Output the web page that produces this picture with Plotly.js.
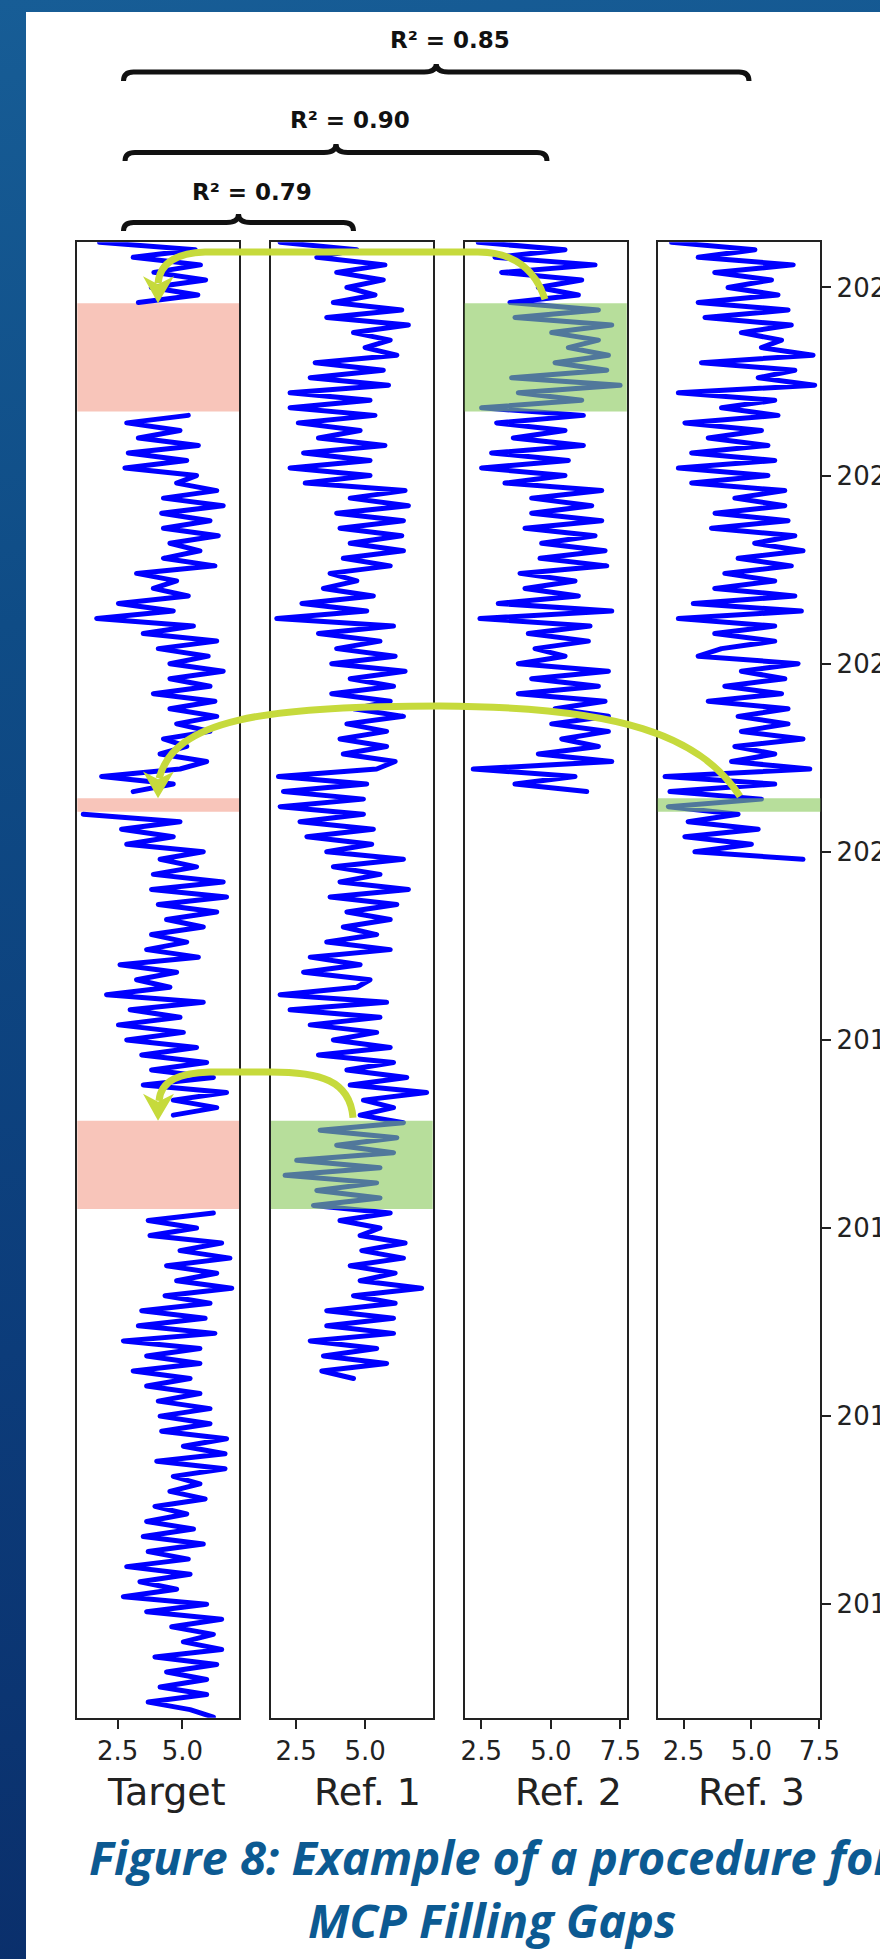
<!DOCTYPE html>
<html>
<head>
<meta charset="utf-8">
<script src="https://cdn.plot.ly/plotly-3.0.1.min.js"></script>
<style>
html,body{margin:0;padding:0;}
body{width:880px;height:1959px;overflow:hidden;background:linear-gradient(172deg,#175d96 0%,#0f4c86 30%,#0c3c7a 65%,#0a2d69 100%);}
#chart{width:880px;height:1959px;}
.js-line{stroke-linejoin:round;stroke-linecap:round;}
</style>
</head>
<body>
<div id="chart"></div>
<script>
// ---------------- data ----------------
const panelNames = ['Target', 'Ref. 1', 'Ref. 2', 'Ref. 3'];
const sampleStart = 2023.24;   // first (latest) sample, decimal year
const sampleStep = 0.04;       // sampling interval, years

const targetValues = [
  1.8, 5.5, 3.1, 5.7, 3.9, 5.9, 3.8, 5.6, 3.3, null,
  null, null, null, null, null, null, null, null, null, null,
  null, null, null, 5.23, 2.85, 4.91, 3.30, 5.62, 2.91, 5.17,
  2.78, 5.55, 4.78, 6.33, 4.27, 6.58, 4.20, 6.07, 4.27, 6.39,
  4.52, 5.68, 4.27, 6.26, 3.23, 4.78, 3.88, 5.23, 2.53, 4.65,
  1.69, 5.43, 3.49, 6.33, 4.07, 6.00, 4.52, 6.58, 4.52, 6.07,
  3.88, 6.26, 4.52, 6.33, 4.78, 6.07, 4.27, 5.17, 4.14, 5.94,
  4.91, 1.88, 4.65, 3.10, null, null, 1.17, 4.91, 2.65, 4.65,
  2.85, 5.81, 4.14, 5.55, 3.88, 6.58, 3.81, 6.71, 4.07, 6.33,
  4.39, 5.81, 3.81, 5.17, 3.62, 5.62, 2.59, 4.78, 3.23, 4.52,
  2.07, 5.81, 2.98, 4.91, 2.53, 5.04, 2.85, 5.55, 3.43, 5.94,
  3.81, 6.20, 3.49, 6.71, 4.65, 6.33, 4.65, null, null, null,
  null, null, null, null, null, null, null, null, null, 6.20,
  3.68, 5.55, 3.75, 6.52, 4.91, 6.84, 4.39, 6.33, 4.78, 6.91,
  4.33, 6.07, 3.43, 5.88, 3.30, 6.26, 2.72, 5.68, 3.62, 5.68,
  3.10, 5.30, 3.62, 5.68, 4.07, 6.07, 4.14, 6.07, 4.20, 6.71,
  5.04, 6.65, 4.01, 6.65, 4.65, 5.68, 4.52, 5.88, 3.94, 5.17,
  3.62, 5.43, 3.49, 5.81, 3.68, 5.23, 2.85, 5.30, 3.36, 4.78,
  2.72, 5.94, 3.62, 6.52, 4.59, 6.20, 5.04, 6.52, 3.94, 6.33,
  4.39, 5.94, 4.14, 5.94, 3.68, 5.30, 6.20
];

const ref1Values = [
  1.92, 4.70, 3.25, 5.72, 3.97, 5.66, 4.34, 5.36, 3.85, 6.33,
  3.61, 6.57, 4.58, 5.91, 5.00, 6.15, 3.19, 5.66, 3.01, 5.85,
  2.28, 5.18, 2.28, 5.36, 2.58, 4.82, 3.31, 5.72, 2.77, 5.18,
  2.28, 5.18, 2.83, 6.45, 4.46, 6.57, 3.97, 6.39, 4.09, 6.33,
  4.46, 6.39, 4.21, 5.91, 3.73, 4.70, 3.49, 5.30, 2.71, 5.06,
  1.80, 6.03, 3.31, 5.54, 3.97, 6.09, 3.79, 6.45, 4.46, 6.03,
  3.79, 5.91, 4.58, 6.39, 4.34, 5.78, 4.09, 5.78, 4.21, 6.09,
  5.42, 1.86, 5.06, 2.04, 4.94, 1.92, 4.94, 2.64, 5.30, 2.89,
  5.24, 3.61, 6.39, 3.85, 5.54, 4.09, 6.57, 3.73, 6.15, 4.34,
  5.91, 4.21, 5.42, 3.61, 5.91, 3.01, 4.82, 2.77, 5.18, 4.70,
  1.92, 5.78, 2.28, 5.54, 3.01, 5.42, 3.85, 5.91, 3.31, 6.03,
  4.34, 6.51, 4.46, 7.23, 4.94, 6.03, 4.82, 6.39, 3.37, 6.15,
  3.97, 6.03, 2.52, 5.54, 2.10, 5.42, 3.25, 5.54, 3.13, 5.91,
  4.09, 5.54, 4.82, 6.45, 4.88, 6.39, 4.46, 6.09, 4.82, 7.05,
  4.58, 6.09, 3.61, 6.03, 3.61, 6.03, 3.01, 5.42, 3.49, 5.78,
  3.43, 4.58
];

const ref2Values = [
  2.39, 5.51, 2.99, 6.59, 3.23, 6.11, 4.55, 5.99, 3.53, 6.71,
  3.71, 7.19, 5.03, 6.71, 5.63, 7.07, 5.15, 7.01, 3.59, 7.49,
  3.83, 6.11, 2.51, 6.17, 3.05, 5.51, 3.65, 6.17, 2.87, 5.63,
  2.51, 5.51, 3.35, 6.83, 4.31, 6.47, 4.31, 6.83, 4.07, 6.59,
  4.67, 6.95, 4.61, 7.01, 3.89, 5.87, 4.07, 5.99, 3.11, 7.19,
  2.45, 6.41, 4.19, 6.35, 4.43, 5.51, 3.83, 7.07, 4.31, 6.71,
  3.83, 6.95, 5.15, 7.07, 5.03, 7.07, 5.39, 6.71, 4.55, 7.19,
  2.21, 5.87, 3.71, 6.29
];

const ref3Values = [
  2.06, 5.13, 3.04, 6.54, 3.65, 5.74, 4.14, 5.98, 3.04, 6.35,
  3.29, 6.47, 4.63, 6.11, 5.37, 7.27, 3.16, 6.60, 5.25, 7.33,
  2.31, 5.86, 3.90, 5.98, 2.55, 5.37, 3.41, 5.61, 2.80, 5.86,
  2.31, 5.61, 2.80, 6.23, 4.39, 6.23, 3.66, 6.35, 3.53, 6.60,
  5.12, 6.90, 4.51, 6.47, 4.02, 5.86, 3.65, 6.60, 2.86, 6.84,
  2.31, 5.86, 3.65, 5.86, 3.90, 3.04, 6.72, 4.63, 6.23, 4.02,
  6.11, 3.41, 6.35, 4.51, 6.35, 4.63, 6.90, 4.39, 5.86, 4.27,
  7.15, 1.82, 5.86, 2.00, 5.37, 1.94, 4.51, 2.67, 5.25, 2.55,
  5.00, 2.92, 6.90
];

const yearTicks = [2016, 2017, 2018, 2019, 2020, 2021, 2022, 2023];
const valueTicks = [2.5, 5.0, 7.5];

// gaps in the target series (decimal years) and the reference used to fill each
const gapTop = [2022.916, 2020.284, 2018.570];
const gapBottom = [2022.340, 2020.213, 2018.101];
const gapSource = [3, 4, 2];           // subplot number of the reference panel

const r2Labels = ['R² = 0.85', 'R² = 0.90', 'R² = 0.79'];

// ---------------- layout geometry (pixels) ----------------
const W = 880, H = 1959;
const px = x => x / W;
const py = y => 1 - y / H;
const panelLeft = [77.3, 271, 464.6, 657.7];
const panelRight = [239, 432.7, 626.8, 820.4];
const plotTop = 242.3, plotBottom = 1717.7;
const xRanges = [[0.94, 7.19], [1.59, 7.45], [1.90, 7.73], [1.55, 7.54]];
const yRange = [2015.397, 2023.24];
const yearToPx = yr => plotTop + (yRange[1] - yr) / (yRange[1] - yRange[0]) * (plotBottom - plotTop);

function toPaper(d) {
  let n = 0;
  return d.trim().split(/\s+/).map(tok => {
    if (/^[A-Za-z]$/.test(tok)) return tok;
    const v = parseFloat(tok);
    const out = (n % 2 === 0) ? px(v) : py(v);
    n++;
    return out.toFixed(5);
  }).join(' ');
}

const series = [targetValues, ref1Values, ref2Values, ref3Values];
const traces = series.map((vals, k) => ({
  type: 'scatter', mode: 'lines',
  x: vals,
  y: vals.map((_, i) => +(sampleStart - i * sampleStep).toFixed(3)),
  xaxis: k === 0 ? 'x' : 'x' + (k + 1),
  yaxis: k === 0 ? 'y' : 'y' + (k + 1),
  line: {color: '#0000ff', width: 5},
  connectgaps: false,
  hoverinfo: 'skip',
  name: panelNames[k]
}));

const tickFont = {family: 'DejaVu Sans', size: 26, color: '#222'};
const layout = {
  width: W, height: H,
  margin: {l: 0, r: 0, t: 0, b: 0, pad: 0},
  paper_bgcolor: 'rgba(0,0,0,0)',
  plot_bgcolor: '#ffffff',
  showlegend: false,
  shapes: [],
  annotations: []
};

for (let k = 0; k < 4; k++) {
  const sx = k === 0 ? '' : String(k + 1);
  layout['xaxis' + sx] = {
    domain: [px(panelLeft[k]), px(panelRight[k])],
    range: xRanges[k],
    anchor: 'y' + sx,
    showline: true, mirror: true, linecolor: '#222', linewidth: 2,
    ticks: 'outside', ticklen: 9, tickwidth: 2, tickcolor: '#222',
    tickmode: 'array', tickvals: valueTicks, ticktext: valueTicks.map(v => v.toFixed(1)),
    tickfont: tickFont,
    showgrid: false, zeroline: false, fixedrange: true
  };
  const ya = {
    domain: [py(plotBottom), py(plotTop)],
    range: yRange,
    anchor: 'x' + sx,
    showline: true, mirror: true, linecolor: '#222', linewidth: 2,
    showgrid: false, zeroline: false, fixedrange: true
  };
  if (k === 3) {
    Object.assign(ya, {
      side: 'right', ticks: 'outside', ticklen: 9, tickwidth: 2, tickcolor: '#222',
      tickmode: 'array', tickvals: yearTicks, ticktext: yearTicks.map(String),
      tickfont: tickFont, showticklabels: true
    });
  } else {
    Object.assign(ya, {ticks: '', showticklabels: false});
  }
  layout['yaxis' + sx] = ya;
}

// white slide panel
layout.shapes.push({type: 'rect', xref: 'paper', yref: 'paper', x0: px(26), x1: 1, y0: 0, y1: py(12),
  fillcolor: '#ffffff', line: {width: 0}, layer: 'below'});

// gaps (target) and the reference intervals used to fill them
gapTop.forEach((top, g) => {
  layout.shapes.push({type: 'rect', xref: 'x domain', yref: 'y', x0: 0, x1: 1, y0: gapBottom[g], y1: top,
    fillcolor: '#F8C5BA', line: {width: 0}, layer: 'below'});
  const s = gapSource[g];
  layout.shapes.push({type: 'rect', xref: 'x' + s + ' domain', yref: 'y' + s, x0: 0, x1: 1, y0: gapBottom[g], y1: top,
    fillcolor: 'rgb(135,200,88)', opacity: 0.6, line: {width: 0}, layer: 'above'});
});

// curved arrows (reference -> target gap)
const gy = gapTop.map(yearToPx);
const arrowColor = '#C6DA3C';
const arrowPaths = [
  `M 545 ${gy[0] - 4} C 536 ${gy[0] - 32} 515 252 478 252 L 205 252 C 178 253 160 262 158 ${gy[0] - 20}`,
  `M 740 ${gy[1] - 2} C 700 735 620 707 440 706 C 260 706 175 720 159 ${gy[1] - 20}`,
  `M 353 ${gy[2] - 3} C 350 1080 320 1072 270 1072 L 210 1072 C 180 1073 161 1080 159 ${gy[2] - 20}`
];
arrowPaths.forEach((p, g) => {
  layout.shapes.push({type: 'path', xref: 'paper', yref: 'paper', path: toPaper(p),
    line: {color: arrowColor, width: 7}, fillcolor: 'rgba(0,0,0,0)', layer: 'above'});
  const tx = 158, ty = gy[g];
  const head = `M ${tx} ${ty} L ${tx - 15} ${ty - 27} L ${tx} ${ty - 19} L ${tx + 16} ${ty - 27} Z`;
  layout.shapes.push({type: 'path', xref: 'paper', yref: 'paper', path: toPaper(head),
    line: {width: 0}, fillcolor: arrowColor, layer: 'above'});
});

// braces with R² labels
function bracePath(x0, x1, xc, yBar, yEnd, yTop) {
  return `M ${x0} ${yEnd} Q ${x0} ${yBar} ${x0 + 10} ${yBar} L ${xc - 12} ${yBar} Q ${xc} ${yBar} ${xc} ${yTop} ` +
         `Q ${xc} ${yBar} ${xc + 12} ${yBar} L ${x1 - 10} ${yBar} Q ${x1} ${yBar} ${x1} ${yEnd}`;
}
const braces = [
  {x0: 123.5, x1: 749, yBar: 72, yEnd: 81, yTop: 64, lx: 450, ly: 40},
  {x0: 125, x1: 547, yBar: 152.5, yEnd: 161, yTop: 144, lx: 349.5, ly: 120},
  {x0: 123.5, x1: 353.5, yBar: 222.5, yEnd: 231, yTop: 214, lx: 252, ly: 192}
];
braces.forEach((b, i) => {
  const xc = (b.x0 + b.x1) / 2;
  layout.shapes.push({type: 'path', xref: 'paper', yref: 'paper',
    path: toPaper(bracePath(b.x0, b.x1, xc, b.yBar, b.yEnd, b.yTop)),
    line: {color: '#111', width: 5}, fillcolor: 'rgba(0,0,0,0)', layer: 'above'});
  layout.annotations.push({xref: 'paper', yref: 'paper', x: px(b.lx), y: py(b.ly),
    xanchor: 'center', yanchor: 'middle', showarrow: false, text: r2Labels[i],
    font: {family: 'DejaVu Sans', size: 23, color: '#111', weight: 'bold'}});
});

// panel names under the axes
const nameX = [166, 367.6, 568, 751];
panelNames.forEach((nm, k) => {
  layout.annotations.push({xref: 'paper', yref: 'paper', x: px(nameX[k]), y: py(1792),
    xanchor: 'center', yanchor: 'middle', showarrow: false, text: nm,
    font: {family: 'DejaVu Sans', size: 38, color: '#222'}});
});

// caption
const captionFont = {family: 'Open Sans', size: 47, color: '#0C5A92', weight: 'bold', style: 'italic'};
layout.annotations.push({xref: 'paper', yref: 'paper', x: px(492), y: py(1857), xanchor: 'center', yanchor: 'middle',
  showarrow: false, text: 'Figure 8: Example of a procedure for', font: captionFont});
layout.annotations.push({xref: 'paper', yref: 'paper', x: px(492), y: py(1919.5), xanchor: 'center', yanchor: 'middle',
  showarrow: false, text: 'MCP Filling Gaps', font: captionFont});

Plotly.newPlot('chart', traces, layout, {staticPlot: true, displayModeBar: false});
</script>
</body>
</html>
